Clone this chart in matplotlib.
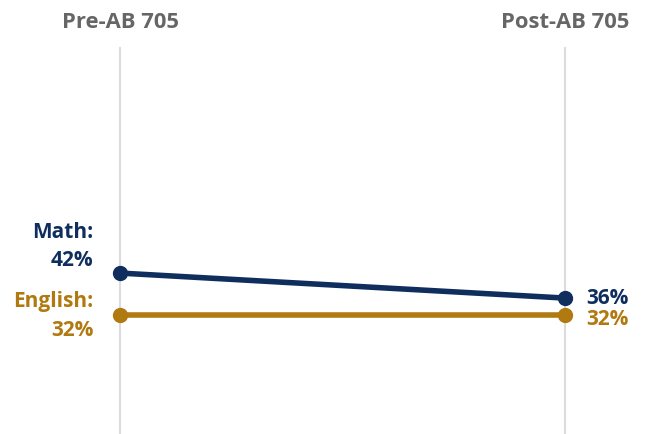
import matplotlib
matplotlib.use("Agg")
import matplotlib.pyplot as plt

periods = ["Pre-AB 705", "Post-AB 705"]
math_vals = [42, 36]
english_vals = [32, 32]
series_names = ["Math", "English"]

NAVY = "#0f2e5e"
GOLD = "#b07a10"
GRAY = "#666666"

plt.rcParams['font.family'] = ['Open Sans', 'DejaVu Sans']

fig = plt.figure(figsize=(6.45, 4.34), dpi=100)
ax = fig.add_axes([0, 0, 1, 1])
ax.set_xlim(-0.27, 1.18)
ax.set_ylim(3.4, 107.5)
ax.axis('off')

xs = [0, 1]
for x in xs:
    ax.plot([x, x], [3.4, 96.0], color="#dcdcdc", lw=1.5, zorder=1)

ax.plot(xs, english_vals, color=GOLD, lw=4, marker='o', ms=10, zorder=3, solid_capstyle='round')
ax.plot(xs, math_vals, color=NAVY, lw=4, marker='o', ms=10, zorder=4, solid_capstyle='round')

for x, p in zip(xs, periods):
    ax.text(x, 100.9, p, ha='center', va='baseline', fontsize=15.8, fontweight='bold', color=GRAY)

FS = 15
lx = -0.06
# left labels
ax.text(lx, math_vals[0] + 8.4, f"{series_names[0]}:", ha='right', va='baseline',
        fontsize=FS, fontweight='bold', color=NAVY)
ax.text(lx, math_vals[0] + 1.6, f"{math_vals[0]}%", ha='right', va='baseline',
        fontsize=FS, fontweight='bold', color=NAVY)
ax.text(lx, english_vals[0] + 1.9, f"{series_names[1]}:", ha='right', va='baseline',
        fontsize=FS, fontweight='bold', color=GOLD)
ax.text(lx, english_vals[0] - 5.1, f"{english_vals[0]}%", ha='right', va='baseline',
        fontsize=FS, fontweight='bold', color=GOLD)

# right labels
rx = 1.047
ax.text(rx, math_vals[1] - 1.5, f"{math_vals[1]}%", ha='left', va='baseline', fontsize=FS, fontweight='bold', color=NAVY)
ax.text(rx, english_vals[1] - 2.5, f"{english_vals[1]}%", ha='left', va='baseline', fontsize=FS, fontweight='bold', color=GOLD)

fig.savefig("out.png", dpi=100)
